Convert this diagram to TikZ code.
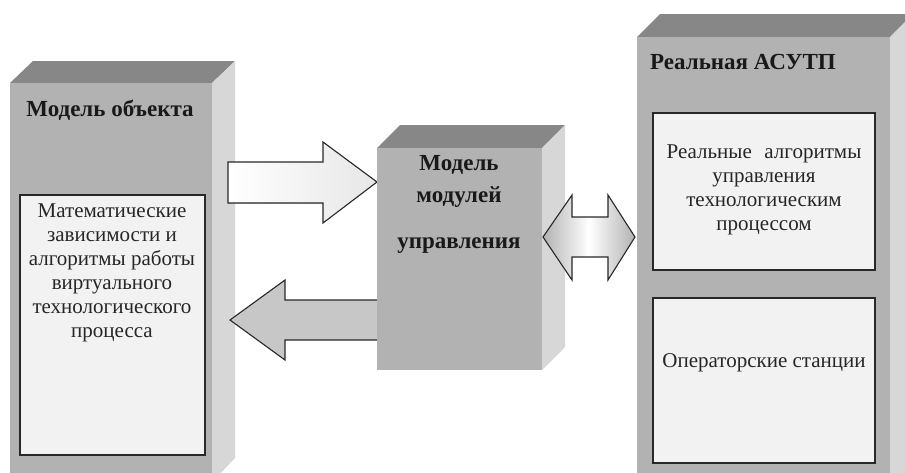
\documentclass[tikz,border=0pt]{standalone}
\usepackage{fontspec}
\setmainfont{Liberation Serif}
\usetikzlibrary{shadings}
\definecolor{frontc}{RGB}{178,178,178}
\definecolor{topc}{RGB}{135,135,135}
\definecolor{sidec}{RGB}{215,215,215}
\definecolor{innerc}{RGB}{242,242,242}
\definecolor{linec}{RGB}{40,40,40}
\tikzset{
  x=1pt, y=-1pt,
  front/.style={fill=frontc, draw=none},
  topface/.style={fill=topc, draw=none},
  sideface/.style={fill=sidec, draw=none},
  inner/.style={fill=innerc, draw=linec, line width=1.1pt},
  blockarrow/.style={draw=linec, line width=1.1pt, line join=miter},
  title/.style={font=\fontsize{23}{27}\selectfont\bfseries, text=black!90, inner sep=0pt},
  body/.style={font=\fontsize{21}{24}\selectfont, align=center, text=black!85, inner sep=0pt},
}
\begin{document}
\begin{tikzpicture}
\useasboundingbox (0,0) rectangle (905,472);
\clip (0,0) rectangle (905,472);
\fill[white] (0,0) rectangle (905,472);
% ---- left box: model of object
\fill[topface] (10,83) -- (33,61) -- (235,61) -- (212,83) -- cycle;
\fill[sideface] (212,83) -- (235,61) -- (235,458) -- (212,482) -- cycle;
\fill[front] (10,83) rectangle (212,490);
\node[title] (objtitle) at (110,110) {Модель объекта};
\draw[inner] (20,195) rectangle (205,455);
\node[body] (objtext) at (112,273) {Математические\\зависимости и\\алгоритмы работы\\виртуального\\технологического\\процесса};
% ---- arrows between left and middle
\fill[left color=white, right color=innerc!90!gray, draw=linec, line width=1.1pt] (228,162) -- (323,162) -- (323,142) -- (377,182) -- (323,223) -- (323,203) -- (228,203) -- cycle;
\path[fill=black!22] (379,300) -- (285,300) -- (285,280) -- (230,320) -- (285,360) -- (285,340) -- (379,340) -- cycle;
\draw[blockarrow] (379,300) -- (285,300) -- (285,280) -- (230,320) -- (285,360) -- (285,340) -- (379,340);
% ---- middle box
\fill[topface] (377,148) -- (400,125) -- (565,125) -- (542,148) -- cycle;
\fill[sideface] (542,148) -- (565,125) -- (565,347) -- (542,370) -- cycle;
\fill[front] (377,148) rectangle (542,370);
\node[title] (mod1) at (459,165) {Модель};
\node[title] (mod2) at (459,197) {модулей};
\node[title] (mod3) at (459,246) {управления};
% ---- double arrow
\path[shading=axis, left color=black!30, right color=black!30, middle color=white, draw=linec, line width=1.1pt]
  (543,237) -- (572,195) -- (572,217) -- (608,217) -- (608,195) -- (635,237) -- (608,280) -- (608,257) -- (572,257) -- (572,280) -- cycle;
% ---- right box
\fill[topface] (637,37) -- (660,14) -- (913,14) -- (890,37) -- cycle;
\fill[sideface] (890,37) -- (913,14) -- (913,490) -- (890,490) -- cycle;
\fill[front] (637,37) rectangle (890,490);
\node[title, anchor=west] (asutp) at (650,62) {Реальная АСУТП};
\draw[inner] (653,113) rectangle (875,270);
\node[body] (algtext) at (764,190) {Реальные\hspace{0.6em}алгоритмы\\управления\\технологическим\\процессом};
\draw[inner] (653,298) rectangle (875,463);
\node[body] (optext) at (764,363) {Операторские станции};
\end{tikzpicture}
\end{document}
